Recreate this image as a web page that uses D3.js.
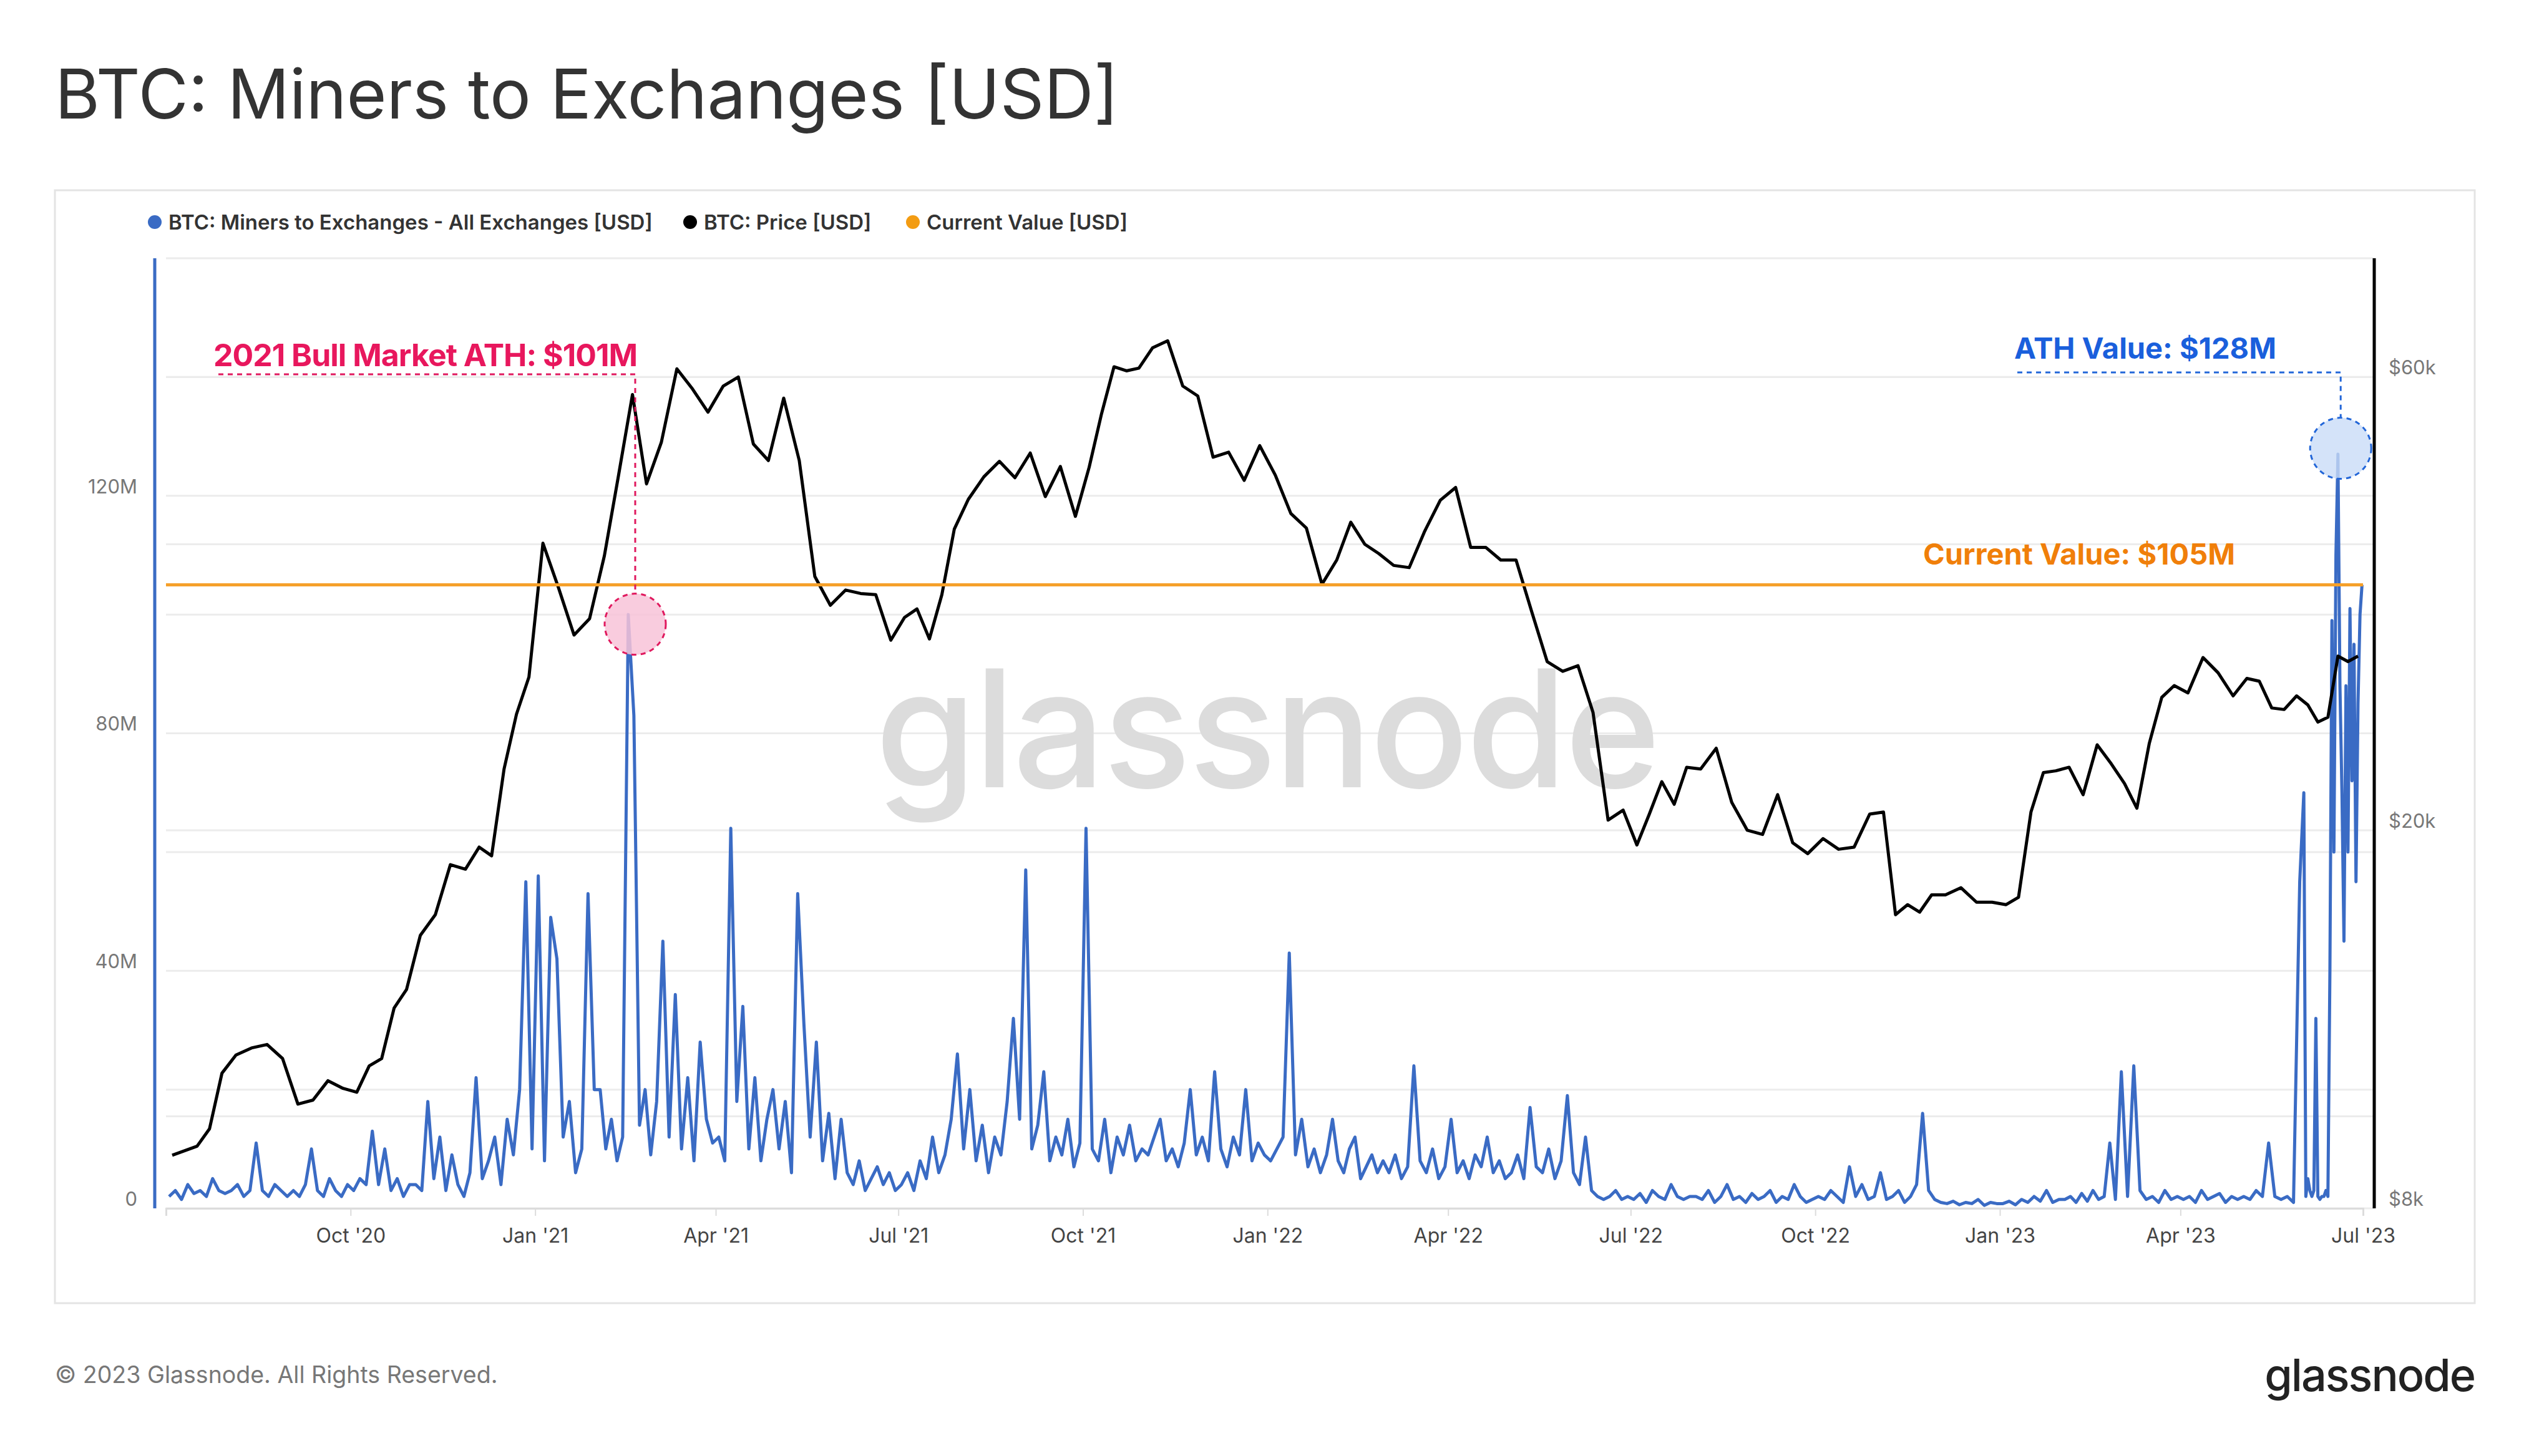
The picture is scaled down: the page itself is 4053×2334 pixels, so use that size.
<!DOCTYPE html>
<html><head><meta charset="utf-8">
<script src="https://cdn.jsdelivr.net/npm/d3@7"></script>
<style>body{margin:0;background:#fff}svg{display:block}text{font-family:Inter,"Noto Sans",sans-serif}</style>
</head><body><svg id="c" width="4053" height="2334"></svg>
<script>
// ---- DATA ----
const months = ["2020-07","2020-08","2020-09","2020-10","2020-11","2020-12",
"2021-01","2021-02","2021-03","2021-04","2021-05","2021-06","2021-07","2021-08","2021-09","2021-10","2021-11","2021-12",
"2022-01","2022-02","2022-03","2022-04","2022-05","2022-06","2022-07","2022-08","2022-09","2022-10","2022-11","2022-12",
"2023-01","2023-02","2023-03","2023-04","2023-05","2023-06"];
// Miners to exchanges, USD millions (values within each month, evenly spaced)
const flowM = [
[2,3,1.5,4,2.5,3,2,5,3,2.5],[3,4,2,3,11,3,2,4,3,2],[3,2,4,10,3,2,5,3,2,4],[3,5,4,13,4,10,3,5,2,4],
[4,3,18,5,12,3,9,4,2,6],[22,5,8,12,4,15,9,20,55,10],
[56,8,49,42,12,18,6,10,53,20],[20,10,15,8,12,100,83,14,20,9],[18,45,12,36,10,22,8,28,15,11],[12,8,64,18,34,10,22,8,15,20],
[10,18,6,53,31,12,28,8,16,5],[15,6,4,8,3,5,7,4,6,3],[4,6,3,8,5,12,6,9,15,26],[10,20,8,14,6,12,9,18,32,15],
[57,10,14,23,8,12,9,15,7,11],[64,10,8,15,6,12,9,14,8,10],[9,12,15,8,10,7,11,20,9,12],[8,23,10,7,12,9,20,8,11,9],
[8,10,12,43,9,15,7,10,6,9],[15,8,6,10,12,5,7,9,6,8],[6,9,5,7,24,8,6,10,5,7],[15,6,8,5,9,7,12,6,8,5],
[6,9,5,17,7,6,10,5,8,19],[6,4,12,3,2,1.5,2,3,1.5,2],[1.5,2.5,1,3,2,1.5,4,2,1.5,2],[2,1.5,3,1,2,4,1.5,2,1,2.5],
[1.5,2,3,1,2,1.5,4,2,1,1.5],[2,1.5,3,2,1,7,2,4,1.5,2],[6,1.5,2,3,1,2,4,16,3,1.5],[1,0.8,1.2,0.6,1,0.8,1.5,0.5,1,0.8],
[0.8,1.2,0.6,1.5,1,2,1.2,3,1,1.5],[1.5,2,1,2.5,1.2,3,1.5,2,11,1.5],[23,2,24,3,1.5,2,1,3,1.5,2],[1.5,2,1,3,1.5,2,2.5,1,2,1.5],
[2,1.5,3,2,11,2,1.5,2,1,55],
[70,2,5,3,2,3,32,2,1.5,2,2,3,2,40,99,60,110,127,88,70,45,88,60,101,72,95,55,85,100,105]];
// BTC price, USD thousands (weekly within each month)
const priceK = [
[9.1,9.2,9.3,9.7,11.1],[11.6,11.8,11.9,11.5],[10.3,10.4,10.9,10.7],[10.6,11.3,11.5,13.0,13.6],[15.5,16.3,18.4,18.2],[19.2,18.8,23.2,26.5,29.0],
[40.1,36.0,32.1,33.4],[38.9,47.2,57.5,46.3],[51.2,61.2,58.3,55.1],[58.7,60.0,51.0,49.0],[57.0,49.0,37.0,34.5],[35.8,35.5,35.4,31.7],
[33.5,34.2,31.8,35.4,41.5],[44.6,47.1,48.9,47.0],[49.9,44.9,48.3,42.8],[48.2,54.9,61.5,60.9,61.3],[64.4,65.5,58.7,57.3],[49.4,50.0,46.7,50.8],
[47.3,43.1,41.6,36.3],[38.5,42.2,40.0,39.1],[38.0,37.8,41.3,44.5],[45.9,39.7,39.7,38.5],[38.5,34.0,30.1,29.4],[29.8,26.6,20.5,21.0],
[19.3,20.8,22.5,21.3,23.3],[23.2,24.4,21.4,20.0],[19.8,21.8,19.4,18.9],[19.6,19.1,19.2,20.8],[20.9,16.3,16.7,16.4,17.1],[17.1,17.4,16.8,16.8],
[16.7,17.0,20.9,23.0,23.1],[23.3,21.8,24.6,23.5],[22.4,21.1,24.7,27.6,28.4],[27.9,30.4,29.3,27.7],[28.9,28.7,26.9,26.8,27.7],[27.1,26.0,26.3,30.5,30.1,30.5]];
const currentValueM = 105, athValueM = 128, bullAthM = 101;
const athDate = "2023-06-18", bullDate = "2021-02-18";
const leftTicks = [0,40,80,120], leftGrid = [0,20,40,60,80,100,120,140,160];
const rightTicks = [8,20,60], rightGrid = [10,20,40,60];
const xTicks = ["2020-10","2021-01","2021-04","2021-07","2021-10","2022-01","2022-04","2022-07","2022-10","2023-01","2023-04","2023-07"];

// ---- BUILD ----
const pm = d3.utcParse("%Y-%m"), pd = d3.utcParse("%Y-%m-%d");
function spread(vals){return months.flatMap((m,k)=>{const s=pm(m),e=d3.utcMonth.offset(s,1),n=vals[k].length;
  return vals[k].map((v,i)=>({date:new Date(+s+(e-s)*(i+0.5)/n),value:v}));});}
const flow = spread(flowM), price = spread(priceK);

const svg = d3.select("#c");
const L=248, R=3805, T=414, B=1937, x0=266, x1=3787;
const x = d3.scaleUtc().domain([pm("2020-07"),pm("2023-07")]).range([x0,x1]);
const yL = d3.scaleLinear().domain([0,160]).range([B,T]);
const yR = d3.scaleLog().domain([8,80]).range([B,T]);

svg.append("text").attr("x",88).attr("y",190).attr("font-size",110).attr("fill","#333").text("BTC: Miners to Exchanges [USD]");
svg.append("rect").attr("x",88).attr("y",305).attr("width",3878).attr("height",1784).attr("fill","none").attr("stroke","#e4e4e4").attr("stroke-width",3);

// legend
const leg=[["BTC: Miners to Exchanges - All Exchanges [USD]","#3a6bc4",248],["BTC: Price [USD]","#000",1106],["Current Value [USD]","#f39c12",1463]];
leg.forEach(([t,c,lx])=>{svg.append("circle").attr("cx",lx).attr("cy",356).attr("r",11).attr("fill",c);
  svg.append("text").attr("x",lx+22).attr("y",368).attr("font-size",33).attr("font-weight",600).attr("fill","#333").text(t);});

// grid
const g=svg.append("g");
g.selectAll(".gl").data(leftGrid).join("line").attr("x1",266).attr("x2",R).attr("y1",d=>yL(d)).attr("y2",d=>yL(d)).attr("stroke","#ececec").attr("stroke-width",3);
g.selectAll(".gr").data(rightGrid).join("line").attr("x1",266).attr("x2",R).attr("y1",d=>yR(d)).attr("y2",d=>yR(d)).attr("stroke","#ececec").attr("stroke-width",3);

// watermark
svg.append("text").attr("x",2030).attr("y",1262).attr("text-anchor","middle").attr("font-size",262).attr("font-weight",500).attr("fill","#dcdcdc").attr("letter-spacing",-4).text("glassnode");

// axes
const ax=d3.axisBottom(x).tickValues(xTicks.map(pm)).tickFormat(d3.utcFormat("%b '%y")).tickSize(12);
const gx=svg.append("g").attr("transform",`translate(0,${B})`).call(ax);
gx.select(".domain").attr("stroke","#dcdcdc").attr("stroke-width",3);
gx.selectAll(".tick line").attr("stroke","#dcdcdc").attr("stroke-width",2);
gx.selectAll("text").attr("font-size",32).attr("fill","#444").attr("dy","1.25em");
const gl=svg.append("g").attr("transform",`translate(${L-25},0)`).call(d3.axisLeft(yL).tickValues(leftTicks).tickFormat(d=>d===0?"0":d+"M").tickSize(0));
gl.select(".domain").remove(); gl.selectAll("text").attr("font-size",31).attr("fill","#777").attr("dy","-0.15em");
const gr=svg.append("g").attr("transform",`translate(${R+20},0)`).call(d3.axisRight(yR).tickValues(rightTicks).tickFormat(d=>"$"+d+"k").tickSize(0));
gr.select(".domain").remove(); gr.selectAll("text").attr("font-size",31).attr("fill","#777").attr("dy","-0.15em");
svg.append("line").attr("x1",L).attr("x2",L).attr("y1",T).attr("y2",B).attr("stroke","#3a6bc4").attr("stroke-width",5);
svg.append("line").attr("x1",R).attr("x2",R).attr("y1",T).attr("y2",B).attr("stroke","#000").attr("stroke-width",5);

// series
svg.append("path").datum(flow).attr("d",d3.line().x(d=>x(d.date)).y(d=>yL(d.value))).attr("fill","none").attr("stroke","#3a6bc4").attr("stroke-width",5).attr("stroke-linejoin","round");
svg.append("path").datum(price).attr("d",d3.line().x(d=>x(d.date)).y(d=>yR(d.value))).attr("fill","none").attr("stroke","#000").attr("stroke-width",5).attr("stroke-linejoin","round");
svg.append("line").attr("x1",x0).attr("x2",x1).attr("y1",yL(currentValueM)).attr("y2",yL(currentValueM)).attr("stroke","#f5a02a").attr("stroke-width",5);

// annotations
svg.append("text").attr("x",3582).attr("y",905).attr("text-anchor","end").attr("font-size",47).attr("font-weight",700).attr("fill","#f07f0a").attr("font-family","DejaVu Sans").text("Current Value: $"+currentValueM+"M");
const ax1=x(pd(athDate))+6, ay1=yL(athValueM);
svg.append("path").attr("d",`M3233,597H${ax1}V${ay1-50}`).attr("fill","none").attr("stroke","#2266d8").attr("stroke-width",3).attr("stroke-dasharray","8,7");
svg.append("circle").attr("cx",ax1).attr("cy",ay1).attr("r",49).attr("fill","#c9dcf8").attr("fill-opacity",0.8).attr("stroke","#2266d8").attr("stroke-width",3).attr("stroke-dasharray","8,7");
svg.append("text").attr("x",3228).attr("y",575).attr("font-size",47).attr("font-weight",700).attr("fill","#1a5fdc").attr("font-family","DejaVu Sans").text("ATH Value: $"+athValueM+"M");
const bx=x(pd(bullDate))+6, by=yL(bullAthM)+25;
svg.append("circle").attr("cx",bx).attr("cy",by).attr("r",49).attr("fill","#f8c3d8").attr("fill-opacity",0.85).attr("stroke","#e0195e").attr("stroke-width",3).attr("stroke-dasharray","8,7");
svg.append("path").attr("d",`M350,600H${bx}V${by-49}`).attr("fill","none").attr("stroke","#e0195e").attr("stroke-width",3).attr("stroke-dasharray","8,7");
svg.append("text").attr("x",342).attr("y",587).attr("font-size",50).attr("font-weight",700).attr("fill","#e8175d").attr("letter-spacing",-1).text("2021 Bull Market ATH: $"+bullAthM+"M");

// footer
svg.append("text").attr("x",88).attr("y",2217).attr("font-size",37.5).attr("fill","#777").text("© 2023 Glassnode. All Rights Reserved.");
svg.append("text").attr("x",3966).attr("y",2230).attr("text-anchor","end").attr("font-size",72).attr("font-weight",500).attr("fill","#222").attr("letter-spacing",-2).text("glassnode");
</script></body></html>
